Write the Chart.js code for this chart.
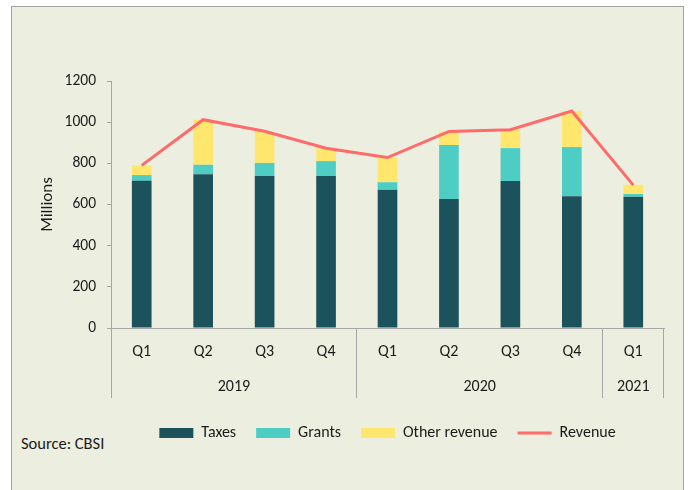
<!DOCTYPE html>
<html lang="en">
<head>
    <meta charset="UTF-8">
    <title>Revenue by quarter</title>
    <script src="https://cdn.jsdelivr.net/npm/chart.js"></script>
    <style>
        body { margin: 0; background: #fff; }
        .panel {
            position: absolute; left: 11px; top: 6px; width: 671px; height: 500px;
            background: #ecefdf; border: 1px solid #a3a3a3;
        }
        .source {
            position: absolute; left: 21px; top: 433px;
            font: 16.5px Carlito, Calibri, Lato, sans-serif; color: #1a1a1a;
        }
        #chart { position: absolute; left: 0; top: 0; }
    </style>
</head>
<body>
    <div class="panel"></div>
    <div class="source">Source: CBSI</div>
    <canvas id="chart" width="688" height="490"></canvas>
    <script>
        // quarters and the years they belong to
        const quarters = ['Q1', 'Q2', 'Q3', 'Q4', 'Q1', 'Q2', 'Q3', 'Q4', 'Q1'];
        const years = ['2019', '2020', '2021'];
        const quartersPerYear = [4, 4, 1];

        // millions
        const taxes = [715, 747, 738, 738, 672, 627, 714, 640, 638];
        const grants = [28, 46, 64, 73, 36, 262, 160, 239, 13];
        const otherRevenue = [47, 219, 152, 62, 119, 65, 89, 175, 45];
        const revenue = [790, 1012, 956, 873, 828, 955, 963, 1054, 694];

        const yTicks = [0, 200, 400, 600, 800, 1000, 1200];

        // centre of each year group, in category units
        const yearCenters = [];
        let start = 0;
        quartersPerYear.forEach(n => {
            yearCenters.push(start + (n - 1) / 2);
            start += n;
        });
        // category index where each new year starts (for separator lines)
        const yearStarts = [0];
        quartersPerYear.slice(0, -1).forEach((n, i) => yearStarts.push(yearStarts[i] + n));

        const axisGrey = '#a6a6a6';
        Chart.defaults.font.family = 'Carlito, Calibri, Lato, sans-serif';
        Chart.defaults.font.size = 16;
        Chart.defaults.color = '#1a1a1a';

        const ctx = document.getElementById('chart').getContext('2d');
        new Chart(ctx, {
            data: {
                labels: quarters,
                datasets: [
                    { type: 'bar', label: 'Taxes', data: taxes, backgroundColor: '#1b525c', stack: 'rev', order: 1 },
                    { type: 'bar', label: 'Grants', data: grants, backgroundColor: '#4ecdc4', stack: 'rev', order: 1 },
                    { type: 'bar', label: 'Other revenue', data: otherRevenue, backgroundColor: '#ffe66d', stack: 'rev', order: 1 },
                    {
                        type: 'line', label: 'Revenue', data: revenue, stack: 'line', order: 0,
                        borderColor: '#ff6b6b', backgroundColor: '#ff6b6b', borderWidth: 3,
                        pointRadius: 0, tension: 0
                    }
                ]
            },
            options: {
                responsive: false,
                animation: false,
                layout: { padding: { left: 34, right: 24, top: 81, bottom: 39 } },
                datasets: { bar: { categoryPercentage: 1, barPercentage: 0.32, borderWidth: 0 } },
                scales: {
                    x: {
                        stacked: true,
                        weight: 0,
                        grid: {
                            offset: true,
                            drawOnChartArea: false,
                            drawTicks: true,
                            tickLength: 70,
                            color: c => (c.type === 'scale' || yearStarts.includes(c.index)) ? axisGrey : 'rgba(0,0,0,0)'
                        },
                        border: { color: axisGrey },
                        ticks: { padding: -56, maxRotation: 0, autoSkip: false },
                        afterFit: s => { s.height = 42; }
                    },
                    x2: {
                        type: 'linear',
                        position: 'bottom',
                        weight: 1,
                        min: -0.5,
                        max: quarters.length - 0.5,
                        offset: false,
                        grid: { display: false },
                        border: { display: false },
                        afterBuildTicks: s => { s.ticks = yearCenters.map(v => ({ value: v })); },
                        ticks: {
                            padding: -1,
                            autoSkip: false,
                            maxRotation: 0,
                            callback: v => years[yearCenters.indexOf(v)]
                        },
                        afterFit: s => { s.height = 35; }
                    },
                    y: {
                        stacked: true,
                        min: 0,
                        max: 1200,
                        afterBuildTicks: s => { s.ticks = yTicks.map(v => ({ value: v })); },
                        grid: { drawOnChartArea: false, drawTicks: true, tickLength: 4, color: axisGrey },
                        border: { color: axisGrey },
                        ticks: { padding: 11, font: { size: 15.5 }, callback: v => String(v) },
                        title: { display: true, text: 'Millions', font: { size: 17 }, padding: { top: 4, bottom: 0 } },
                        afterFit: s => { s.width = 77; }
                    }
                },
                plugins: {
                    legend: {
                        position: 'bottom',
                        fullSize: false,
                        labels: {
                            usePointStyle: true,
                            pointStyleWidth: 34,
                            boxHeight: 10,
                            padding: 20,
                            color: '#1a1a1a',
                            sort: (a, b) => a.datasetIndex - b.datasetIndex,
                            generateLabels: chart => {
                                const items = Chart.defaults.plugins.legend.labels.generateLabels(chart);
                                items.forEach(it => {
                                    if (it.text === 'Revenue') {
                                        it.pointStyle = 'line';
                                        it.lineWidth = 3;
                                    } else {
                                        it.pointStyle = 'rect';
                                        it.lineWidth = 0;
                                    }
                                });
                                return items;
                            }
                        }
                    },
                    tooltip: { enabled: false }
                }
            }
        });
    </script>
</body>
</html>
